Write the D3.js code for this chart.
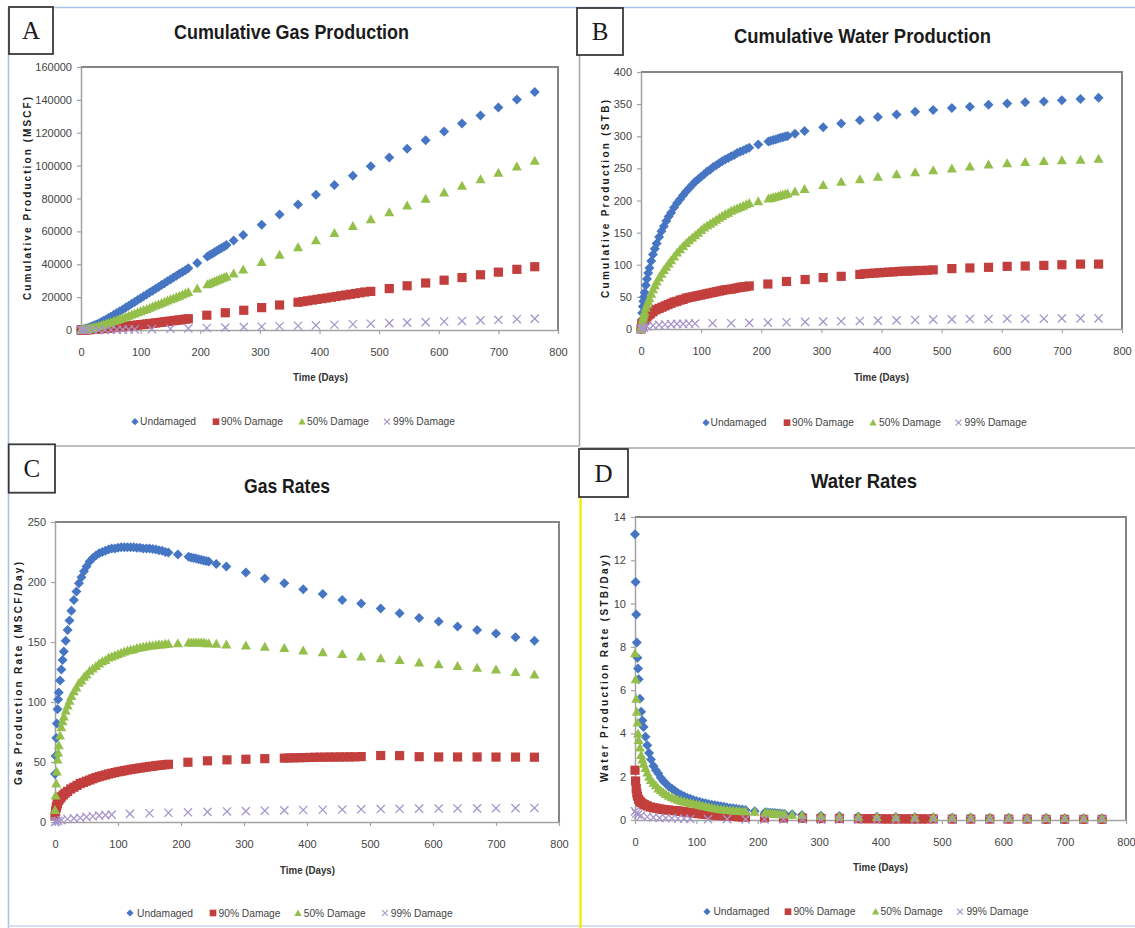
<!DOCTYPE html>
<html>
<head>
<meta charset="utf-8">
<script src="https://cdn.jsdelivr.net/npm/d3@7"></script>
<style>
  body { margin: 0; background: #fff; }
  svg { display: block; }
</style>
</head>
<body>
<svg id="fig" width="1135" height="928"></svg>
<script>
// ---------- time grids (days) ----------
const tMain = [0, 1, 2, 3, 4, 5, 6,
  8, 10, 12, 14,
  17, 20, 23, 26,
  30, 34, 38, 42, 46, 50,
  55, 60, 65, 70, 75, 80, 85, 90, 95, 100,
  105, 110, 115, 120, 125, 130, 135, 140, 145, 150,
  155, 160, 165, 170, 175, 180,
  195,
  212, 216, 220, 224, 228, 232, 236, 240, 244,
  256, 272,
  303, 333, 364, 394, 425, 456, 486, 517,
  547, 578, 609, 639, 670, 700, 731, 761];

const tRed = [0, 1, 2, 3, 4,
  6, 8, 10, 13, 16,
  20, 25, 30, 35, 40, 45, 50, 55, 60, 65,
  70, 75, 80, 85, 90, 95, 100, 105, 110, 115,
  120, 125, 130, 135, 140, 145, 150, 155, 160, 165,
  170, 175, 180,
  211, 242, 273, 303, 333,
  364, 372, 380, 388, 396, 404, 412, 420, 428, 436,
  444, 452, 460, 468, 476, 486,
  517, 547, 578, 609, 639, 670, 700, 731, 761];

const tSparse = [0, 2, 5, 10, 20, 30, 40, 50, 60, 70, 80, 90,
  119, 150, 180, 211, 242, 273, 303, 333, 364, 394, 425,
  456, 486, 517, 547, 578, 609, 639, 670, 700, 731, 761];

// ---------- A: cumulative gas production (MSCF) ----------
const gasCumUndamaged = [0, 48, 110, 186, 274, 372, 477,
  703, 948, 1210, 1487,
  1926, 2392, 2884, 3400,
  4120, 4880, 5660, 6460, 7290, 8130,
  9210, 10300, 11410, 12520, 13650, 14770, 15910, 17040, 18180, 19320,
  20470, 21610, 22760, 23900, 25050, 26190, 27330, 28480, 29620, 30760,
  31890, 33030, 34160, 35300, 36420, 37550,
  40700,
  44700, 45600, 46400, 47300, 48200, 49100, 49900, 50800, 51700,
  54500, 57800,
  64100, 70200, 76300, 82300, 88200, 93800, 99600, 105000,
  110200, 115500, 120700, 125700, 130500, 135300, 140300, 144800];

const gasCum90 = [0, 7, 18, 31, 46,
  79, 117, 157, 222, 292,
  391, 524, 666, 815, 972, 1135, 1303, 1476, 1653, 1835,
  2022, 2213, 2407, 2605, 2807, 3011, 3219, 3429, 3642, 3857,
  4075, 4295, 4517, 4741, 4967, 5195, 5425, 5657, 5891, 6126,
  6363, 6601, 6841,
  9000, 10500, 12000, 13600, 15200,
  16900, 17300, 17750, 18200, 18650, 19100, 19500, 19950, 20400, 20850,
  21300, 21750, 22200, 22650, 23100, 23500,
  25200, 26900, 28600, 30300, 31900, 33600, 35200, 36900, 38500];

const gasCum50 = [0, 16, 43, 80, 127, 182, 243,
  379, 530, 693, 865,
  1137, 1422, 1719, 2028,
  2456, 2898, 3354, 3822, 4300, 4788,
  5410, 6045, 6690, 7345, 8010, 8683, 9363, 10050, 10743, 11440,
  12143, 12850, 13563, 14279, 14998, 15720, 16446, 17175, 17906, 18640,
  19375, 20111, 20850, 21590, 22331, 23074,
  25300,
  27840, 28440, 29040, 29630, 30230, 30830, 31430, 32020, 32620,
  34400, 36800,
  41300, 45800, 50300, 54600, 59000, 63300, 67400, 71600,
  75700, 79800, 83700, 87700, 91700, 95600, 99400, 103000];

const gasCum99 = [0, 1, 3, 9, 29, 57, 90, 128, 173, 223, 278, 337,
  524, 744, 969, 1214, 1469, 1736, 2009, 2287, 2583, 2878, 3188,
  3507, 3823, 4155, 4482, 4824, 5170, 5508, 5860, 6204, 6563, 6912];

// ---------- B: cumulative water production (STB) ----------
const waterCumUndamaged = [0, 14, 25, 35, 43, 50, 57,
  68, 78, 87, 95,
  106, 116, 125, 133,
  143, 152, 160, 168, 175, 181,
  189, 196, 202, 208, 214, 219, 224, 229, 233, 237,
  241, 245, 248, 252, 255, 258, 261, 264, 266, 269,
  271, 274, 276, 278, 280, 282,
  287,
  292, 293, 294, 295, 296.5, 297.5, 298.5, 299.5, 300.5,
  304, 308,
  314, 320, 325, 330, 334, 338, 341, 344,
  346, 349, 351, 353, 354, 356, 358, 360];

const waterCum90 = [0, 4, 7, 9, 11,
  14, 17, 19, 22, 24,
  27, 30, 32, 34, 36, 38, 40, 42, 43, 45,
  46, 48, 49, 50, 51, 52, 53, 54, 55, 56,
  57, 58, 59, 60, 61, 61.5, 62, 63, 64, 65,
  65.5, 66, 67,
  70, 74, 77, 80, 82,
  85, 86, 86.5, 87, 87.5, 88, 88.5, 89, 89.5, 90,
  90, 90.5, 91, 91, 91.5, 92,
  94, 95, 96, 97.5, 98, 99, 100, 101, 101];

const waterCum50 = [0, 5, 10, 15, 19, 23, 27,
  33, 38, 43, 48,
  55, 62, 68, 74,
  80, 86, 92, 97, 102, 107,
  113, 119, 124, 129, 134, 138, 142, 146, 150, 154,
  158, 161, 164, 167, 170, 173, 176, 179, 181, 184,
  186, 188, 190, 192, 194, 196,
  199,
  203, 204, 205, 206, 207, 208, 209, 210, 211,
  214, 218,
  224, 229, 233, 237, 241, 244, 247, 250,
  253, 256, 258, 260, 261.5, 262.5, 263.5, 265];

const waterCum99 = [0, 1, 2, 4, 5.5, 6.5, 7, 7.5, 8, 8, 8.5, 8.5,
  9, 9, 9.5, 10, 10.5, 11, 11.5, 12, 12.5, 13, 13.5,
  14, 14.5, 15, 15.5, 15.5, 16, 16, 16, 16.5, 16.5, 16.5];

// ---------- C: gas rates (MSCF/Day) ----------
const gasRateUndamaged = [40, 55, 70, 82, 94, 102, 108,
  118, 127, 135, 142,
  151, 160, 168, 176,
  185, 192, 199, 204, 209, 213,
  217, 220, 222, 224, 225, 226, 227, 228, 228, 228.5,
  229, 229, 229, 229, 229, 228.5, 228.5, 228, 228, 228,
  227.5, 227, 226.5, 226, 225, 224.5,
  223,
  221, 220.5, 220, 219.5, 219, 218.5, 218, 217.5, 217,
  215, 213,
  208, 203, 199, 194, 190, 185, 182, 178,
  174, 170, 167, 163, 160, 157, 154, 151];

const gasRate90 = [5, 9, 12, 14, 15.5,
  18, 19.5, 21, 22.5, 24,
  25.5, 27.5, 29, 30.5, 32, 33, 34, 35, 36, 37,
  37.8, 38.5, 39.2, 40, 40.6, 41.2, 41.8, 42.3, 42.8, 43.3,
  43.8, 44.2, 44.6, 45, 45.4, 45.8, 46.2, 46.5, 46.9, 47.2,
  47.5, 47.8, 48.1,
  49.8, 51, 51.8, 52.3, 52.8,
  53.2, 53.4, 53.5, 53.6, 53.7, 53.8, 53.9, 54, 54, 54.1,
  54.1, 54.2, 54.2, 54.3, 54.3, 54.5,
  55.4, 55.3, 54.4, 54.2, 54.2, 54.2, 54.1, 54.1, 54];

const gasRate50 = [10, 22, 32, 42, 52, 58, 64,
  72, 79, 84, 88,
  93, 97, 101, 105,
  109, 112, 116, 118, 121, 123,
  126, 128, 130, 132, 134, 135, 137, 138, 139, 140,
  141, 142, 143, 143.5, 144, 145, 145.5, 146, 146.5, 147,
  147, 147.5, 148, 148, 148.5, 148.5,
  149,
  149.5, 149.5, 149.5, 149.5, 149.5, 149.5, 149.5, 149, 149,
  148.5, 148,
  147, 146, 145, 143, 141.5, 140, 138, 136.5,
  135, 133, 131.5, 130, 128.5, 127, 125, 123];

const gasRate99 = [0, 0.5, 1, 1.5, 2.5, 3, 3.5, 4.2, 4.8, 5.3, 5.7, 6.1,
  6.8, 7.3, 7.7, 8.1, 8.4, 8.8, 9.1, 9.4, 9.7, 10, 10.2,
  10.4, 10.6, 10.8, 11, 11.1, 11.2, 11.3, 11.4, 11.5, 11.6, 11.7];

// ---------- D: water rates (STB/Day) ----------
const waterRateUndamaged = [13.2, 11.0, 9.5, 8.2, 7.5, 7.0, 6.5,
  5.6, 5.0, 4.6, 4.3,
  3.85, 3.45, 3.1, 2.8,
  2.5, 2.3, 2.15, 1.95, 1.8, 1.7,
  1.55, 1.45, 1.35, 1.25, 1.17, 1.1, 1.03, 0.98, 0.92, 0.88,
  0.84, 0.8, 0.77, 0.74, 0.71, 0.68, 0.66, 0.63, 0.61, 0.58,
  0.56, 0.54, 0.52, 0.5, 0.48, 0.46,
  0.41,
  0.36, 0.35, 0.34, 0.33, 0.32, 0.31, 0.3, 0.29, 0.28,
  0.26, 0.23,
  0.2, 0.18, 0.16, 0.15, 0.14, 0.13, 0.12, 0.11,
  0.11, 0.1, 0.1, 0.09, 0.09, 0.08, 0.08, 0.08];

const waterRate90 = [2.3, 1.8, 1.45, 1.25, 1.1,
  0.95, 0.86, 0.8, 0.74, 0.7,
  0.65, 0.6, 0.57, 0.54, 0.51, 0.49, 0.47, 0.46, 0.44, 0.43,
  0.42, 0.4, 0.38, 0.36, 0.34, 0.32, 0.31, 0.29, 0.28, 0.26,
  0.25, 0.24, 0.23, 0.22, 0.21, 0.2, 0.19, 0.18, 0.17, 0.16,
  0.15, 0.14, 0.13,
  0.1, 0.09, 0.08, 0.07, 0.07,
  0.06, 0.06, 0.06, 0.06, 0.06, 0.05, 0.05, 0.05, 0.05, 0.05,
  0.05, 0.05, 0.05, 0.05, 0.05, 0.05,
  0.04, 0.04, 0.04, 0.04, 0.04, 0.03, 0.03, 0.03, 0.03];

const waterRate50 = [7.7, 6.5, 5.6, 5.0, 4.5, 4.0, 3.7,
  3.35, 3.0, 2.8, 2.6,
  2.4, 2.2, 2.0, 1.85,
  1.72, 1.6, 1.46, 1.38, 1.28, 1.2,
  1.12, 1.05, 0.99, 0.93, 0.89, 0.85, 0.82, 0.79, 0.76, 0.73,
  0.7, 0.66, 0.63, 0.6, 0.57, 0.54, 0.52, 0.5, 0.48, 0.46,
  0.45, 0.44, 0.43, 0.42, 0.41, 0.4,
  0.38,
  0.33, 0.32, 0.31, 0.3, 0.29, 0.28, 0.27, 0.26, 0.25,
  0.24, 0.22,
  0.18, 0.16, 0.15, 0.14, 0.13, 0.12, 0.11, 0.1,
  0.1, 0.09, 0.09, 0.08, 0.08, 0.08, 0.07, 0.07];

const waterRate99 = [0.4, 0.3, 0.25, 0.2, 0.15, 0.12, 0.1, 0.09, 0.08, 0.07, 0.06, 0.05,
  0.04, 0.04, 0.03, 0.03, 0.03, 0.03, 0.02, 0.02, 0.02, 0.02, 0.02,
  0.02, 0.02, 0.02, 0.02, 0.02, 0.02, 0.02, 0.02, 0.02, 0.02, 0.02];

// ---------- labels ----------
const seriesNames = ["Undamaged", "90% Damage", "50% Damage", "99% Damage"];
const xTicks = [0, 100, 200, 300, 400, 500, 600, 700, 800];

// ---------- styling ----------
const seriesStyle = [
  { color: "#4676c3", shape: "diamond" },
  { color: "#c23f3d", shape: "square" },
  { color: "#93bf4a", shape: "triangle" },
  { color: "#a695cb", shape: "cross" }
];

const panels = [
  {
    letter: "A", box: [9, 7, 44, 47],
    title: "Cumulative Gas Production", titleAt: [291.5, 39, 235],
    plot: { left: 81, right: 558, top: 67, bottom: 330 },
    yMax: 160000, yStep: 20000,
    yTitle: "Cumulative Production (MSCF)", yTitleAt: [27, 198.5, 203],
    xTitleAt: [320.5, 380.5],
    legendY: 421.7, legendMarkX: [135, 216, 302, 387], legendTextX: [140, 221, 307, 393],
    series: [[tMain, gasCumUndamaged], [tRed, gasCum90], [tMain, gasCum50], [tSparse, gasCum99]]
  },
  {
    letter: "B", box: [577, 8, 46, 47],
    title: "Cumulative Water Production", titleAt: [862.5, 42.5, 257],
    plot: { left: 641, right: 1122, top: 72, bottom: 329 },
    yMax: 400, yStep: 50,
    yTitle: "Cumulative Production (STB)", yTitleAt: [605, 199, 198],
    xTitleAt: [881.5, 380.5],
    legendY: 422.7, legendMarkX: [706, 787, 873, 958.5], legendTextX: [710.5, 792, 879, 964.6],
    series: [[tMain, waterCumUndamaged], [tRed, waterCum90], [tMain, waterCum50], [tSparse, waterCum99]]
  },
  {
    letter: "C", box: [8.7, 444.3, 46.3, 48.4],
    title: "Gas Rates", titleAt: [287, 493, 86],
    plot: { left: 55, right: 559, top: 522, bottom: 822 },
    yMax: 250, yStep: 50,
    yTitle: "Gas Production Rate (MSCF/Day)", yTitleAt: [18, 673.5, 223],
    xTitleAt: [307.5, 873.5],
    legendY: 913, legendMarkX: [130, 213, 298, 385], legendTextX: [137, 218.5, 303.7, 390.7],
    series: [[tMain, gasRateUndamaged], [tRed, gasRate90], [tMain, gasRate50], [tSparse, gasRate99]]
  },
  {
    letter: "D", box: [579, 449, 49, 48],
    title: "Water Rates", titleAt: [864, 488, 106],
    plot: { left: 635, right: 1126, top: 517, bottom: 820 },
    yMax: 14, yStep: 2,
    yTitle: "Water Production Rate (STB/Day)", yTitleAt: [604, 668.5, 227],
    xTitleAt: [880.5, 870.5],
    legendY: 911.7, legendMarkX: [707, 788, 875.6, 960], legendTextX: [713.4, 793.4, 880.6, 966.4],
    series: [[tMain, waterRateUndamaged], [tRed, waterRate90], [tMain, waterRate50], [tSparse, waterRate99]]
  }
];

const legendTextLen = [56, 62, 62, 62];
const SANS = "'Liberation Sans', Arial, Helvetica, sans-serif";
const SERIF = "'Liberation Serif', 'Times New Roman', serif";

function markerPath(shape, r) {
  switch (shape) {
    case "diamond": return `M0,${-r}L${r},0L0,${r}L${-r},0Z`;
    case "square": { const h = r * 0.92; return `M${-h},${-h}H${h}V${h}H${-h}Z`; }
    case "triangle": return `M0,${-r}L${r},${r * 0.8}L${-r},${r * 0.8}Z`;
    case "cross": { const h = r * 0.82; return `M${-h},${-h}L${h},${h}M${h},${-h}L${-h},${h}`; }
  }
}

function drawMarker(g, style, x, y, r) {
  const p = g.append("path")
    .attr("d", markerPath(style.shape, r))
    .attr("transform", `translate(${x},${y})`);
  if (style.shape === "cross") {
    p.attr("fill", "none").attr("stroke", style.color).attr("stroke-width", r > 4 ? 1.3 : 1.1);
  } else {
    p.attr("fill", style.color);
  }
}

const svg = d3.select("#fig");
svg.append("rect").attr("width", 1135).attr("height", 928).attr("fill", "#fff");

// ---------- frame lines between the four figures ----------
const frame = svg.append("g");
frame.append("line").attr("x1", 8).attr("x2", 1135).attr("y1", 7.5).attr("y2", 7.5)
  .attr("stroke", "#a9c3e3").attr("stroke-width", 1.6);
frame.append("line").attr("x1", 8.5).attr("x2", 8.5).attr("y1", 7).attr("y2", 928)
  .attr("stroke", "#a9c3e3").attr("stroke-width", 1.6);
frame.append("line").attr("x1", 8).attr("x2", 1135).attr("y1", 926).attr("y2", 926)
  .attr("stroke", "#c5d6ec").attr("stroke-width", 1.6);
frame.append("line").attr("x1", 579.5).attr("x2", 579.5).attr("y1", 55).attr("y2", 446)
  .attr("stroke", "#a8a8a8").attr("stroke-width", 1.6);
frame.append("line").attr("x1", 8).attr("x2", 580).attr("y1", 446).attr("y2", 446)
  .attr("stroke", "#bdbdbd").attr("stroke-width", 1.8);
frame.append("line").attr("x1", 580).attr("x2", 1135).attr("y1", 448).attr("y2", 448)
  .attr("stroke", "#bdbdbd").attr("stroke-width", 1.8);
frame.append("line").attr("x1", 580.5).attr("x2", 580.5).attr("y1", 497).attr("y2", 928)
  .attr("stroke", "#f2ee00").attr("stroke-width", 2.4);

// ---------- panels ----------
panels.forEach(p => {
  const g = svg.append("g");
  const { left, right, top, bottom } = p.plot;

  const x = d3.scaleLinear().domain([0, 800]).range([left, right]);
  const y = d3.scaleLinear().domain([0, p.yMax]).range([bottom, top]);
  const yTicks = d3.range(0, p.yMax + p.yStep / 2, p.yStep);

  // plot area frame (top and right edges)
  g.append("path")
    .attr("d", `M${left},${top}H${right}V${bottom}`)
    .attr("fill", "none").attr("stroke", "#858585").attr("stroke-width", 2);

  // axes
  const xAxis = g.append("g").attr("transform", `translate(0,${bottom})`)
    .call(d3.axisBottom(x).tickValues(xTicks).tickSize(4).tickSizeOuter(0).tickPadding(14).tickFormat(d3.format("d")));
  const yAxis = g.append("g").attr("transform", `translate(${left},0)`)
    .call(d3.axisLeft(y).tickValues(yTicks).tickSize(4).tickSizeOuter(0).tickPadding(5).tickFormat(d3.format("d")));
  [xAxis, yAxis].forEach(a => {
    a.select(".domain").attr("stroke", "#a3a3a3").attr("stroke-width", 1.5);
    a.selectAll(".tick line").attr("stroke", "#a3a3a3").attr("stroke-width", 1.2);
    a.selectAll(".tick text").attr("fill", "#444").attr("font-family", SANS).attr("font-size", 11);
  });

  // markers, series drawn in legend order
  p.series.forEach(([times, values], i) => {
    const mg = g.append("g");
    d3.zip(times, values).forEach(([t, v]) => drawMarker(mg, seriesStyle[i], x(t), y(v), 5));
  });

  // title
  g.append("text")
    .attr("x", p.titleAt[0]).attr("y", p.titleAt[1])
    .attr("text-anchor", "middle")
    .attr("textLength", p.titleAt[2]).attr("lengthAdjust", "spacingAndGlyphs")
    .attr("font-family", SANS).attr("font-weight", "bold").attr("font-size", 21)
    .attr("fill", "#1b1b1b")
    .text(p.title);

  // axis titles
  g.append("text")
    .attr("transform", `translate(${p.yTitleAt[0] + 3.6},${p.yTitleAt[1]}) rotate(-90)`)
    .attr("text-anchor", "middle")
    .attr("textLength", p.yTitleAt[2]).attr("lengthAdjust", "spacing")
    .attr("font-family", SANS).attr("font-weight", "bold").attr("font-size", 10)
    .attr("fill", "#1b1b1b")
    .text(p.yTitle);
  g.append("text")
    .attr("x", p.xTitleAt[0]).attr("y", p.xTitleAt[1])
    .attr("text-anchor", "middle")
    .attr("textLength", 55).attr("lengthAdjust", "spacingAndGlyphs")
    .attr("font-family", SANS).attr("font-weight", "bold").attr("font-size", 10)
    .attr("fill", "#333")
    .text("Time (Days)");

  // legend
  const lg = g.append("g");
  seriesNames.forEach((name, i) => {
    drawMarker(lg, seriesStyle[i], p.legendMarkX[i], p.legendY, 3.6);
    lg.append("text")
      .attr("x", p.legendTextX[i]).attr("y", p.legendY + 3.7)
      .attr("textLength", legendTextLen[i]).attr("lengthAdjust", "spacingAndGlyphs")
      .attr("font-family", SANS).attr("font-size", 10.5)
      .attr("fill", "#444")
      .text(name);
  });

  // letter box
  const [bx, by, bw, bh] = p.box;
  g.append("rect").attr("x", bx).attr("y", by).attr("width", bw).attr("height", bh)
    .attr("fill", "#fff").attr("stroke", "#3a3a3a").attr("stroke-width", 1.8);
  g.append("text")
    .attr("x", bx + bw / 2).attr("y", by + bh / 2 + 8.6)
    .attr("text-anchor", "middle")
    .attr("font-family", SERIF).attr("font-size", 25)
    .attr("fill", "#1a1a1a")
    .text(p.letter);
});
</script>
</body>
</html>
